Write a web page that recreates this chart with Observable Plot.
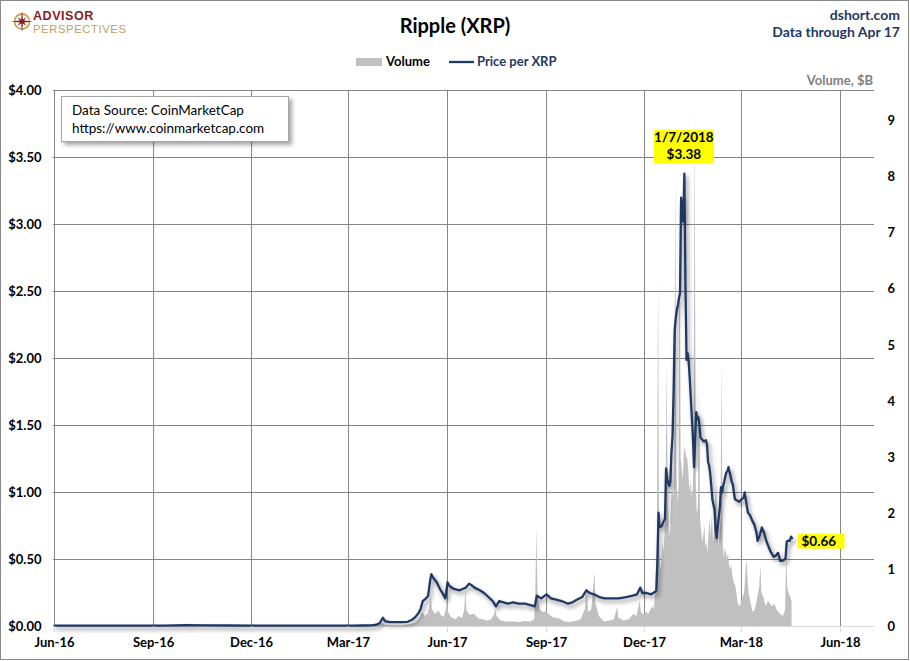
<!DOCTYPE html>
<html><head><meta charset="utf-8">
<script src="https://cdn.jsdelivr.net/npm/d3@7"></script>
<script src="https://cdn.jsdelivr.net/npm/@observablehq/plot@0.6"></script>
<style>
body{margin:0;background:#fff;}
#fig{position:relative;width:910px;height:661px;overflow:hidden;background:#fff;font-family:Lato,"Open Sans",sans-serif;}
#fig svg{position:absolute;left:0;top:0;}
#border{position:absolute;left:0;top:0;width:909px;height:660px;border:1px solid #8a8a8a;box-sizing:border-box;pointer-events:none;}
</style></head><body><div id="fig"><div id="border"></div></div>
<script>
// ---------- data ----------
const priceDates = ["2016-06-01","2016-06-20","2016-07-10","2016-08-01","2016-08-20","2016-09-10","2016-10-01","2016-10-20","2016-11-10","2016-12-01","2016-12-20","2017-01-10","2017-02-01","2017-02-20","2017-03-05","2017-03-15","2017-03-22","2017-03-27","2017-03-30","2017-04-02","2017-04-04","2017-04-08","2017-04-14","2017-04-20","2017-04-25","2017-04-29","2017-05-02","2017-05-05","2017-05-07","2017-05-09","2017-05-12","2017-05-14","2017-05-16","2017-05-17","2017-05-19","2017-05-22","2017-05-25","2017-05-28","2017-05-30","2017-06-01","2017-06-03","2017-06-07","2017-06-12","2017-06-15","2017-06-18","2017-06-21","2017-06-23","2017-06-26","2017-07-01","2017-07-05","2017-07-09","2017-07-13","2017-07-16","2017-07-19","2017-07-23","2017-07-27","2017-08-01","2017-08-06","2017-08-12","2017-08-17","2017-08-21","2017-08-23","2017-08-27","2017-09-01","2017-09-05","2017-09-10","2017-09-15","2017-09-21","2017-09-25","2017-09-29","2017-10-04","2017-10-08","2017-10-11","2017-10-15","2017-10-20","2017-10-25","2017-11-01","2017-11-07","2017-11-14","2017-11-20","2017-11-24","2017-11-27","2017-11-29","2017-12-03","2017-12-07","2017-12-11","2017-12-12","2017-12-13","2017-12-14","2017-12-15","2017-12-17","2017-12-19","2017-12-20","2017-12-21","2017-12-22","2017-12-24","2017-12-25","2017-12-26","2017-12-27","2017-12-28","2017-12-29","2017-12-30","2017-12-31","2018-01-01","2018-01-02","2018-01-03","2018-01-04","2018-01-05","2018-01-06","2018-01-07","2018-01-08","2018-01-09","2018-01-10","2018-01-11","2018-01-12","2018-01-13","2018-01-14","2018-01-15","2018-01-16","2018-01-17","2018-01-18","2018-01-19","2018-01-20","2018-01-21","2018-01-22","2018-01-23","2018-01-25","2018-01-27","2018-01-28","2018-01-29","2018-01-30","2018-01-31","2018-02-01","2018-02-02","2018-02-04","2018-02-05","2018-02-06","2018-02-07","2018-02-08","2018-02-09","2018-02-10","2018-02-11","2018-02-12","2018-02-13","2018-02-14","2018-02-15","2018-02-16","2018-02-17","2018-02-18","2018-02-19","2018-02-20","2018-02-21","2018-02-22","2018-02-23","2018-02-25","2018-02-27","2018-03-01","2018-03-03","2018-03-04","2018-03-05","2018-03-07","2018-03-09","2018-03-11","2018-03-13","2018-03-15","2018-03-16","2018-03-18","2018-03-20","2018-03-22","2018-03-24","2018-03-26","2018-03-28","2018-03-31","2018-04-02","2018-04-04","2018-04-06","2018-04-08","2018-04-10","2018-04-11","2018-04-12","2018-04-13","2018-04-15","2018-04-16","2018-04-17"];
const priceValues = [0.0060,0.0065,0.0068,0.0062,0.0063,0.0058,0.0095,0.0080,0.0075,0.0070,0.0066,0.0068,0.0063,0.0064,0.0064,0.0075,0.0090,0.0130,0.0250,0.0650,0.0400,0.0330,0.0320,0.0320,0.0350,0.0500,0.0700,0.1000,0.1300,0.1900,0.2100,0.2300,0.3500,0.3900,0.3600,0.3300,0.2800,0.2400,0.2100,0.3300,0.3000,0.2800,0.2700,0.2800,0.2900,0.3200,0.3100,0.2900,0.2700,0.2500,0.2200,0.1900,0.1500,0.1900,0.1800,0.1700,0.1800,0.1700,0.1700,0.1600,0.1500,0.2300,0.2100,0.2400,0.2100,0.2000,0.1900,0.1700,0.1800,0.2000,0.2200,0.2700,0.2500,0.2400,0.2200,0.2100,0.2100,0.2100,0.2200,0.2300,0.2400,0.2900,0.2500,0.2500,0.2400,0.2600,0.2700,0.5000,0.8500,0.7400,0.7500,0.7900,0.8000,1.1800,1.1000,1.0500,1.0800,1.3000,1.4200,1.7500,2.2100,2.3000,2.3600,2.4000,2.4500,2.4900,3.2000,3.1000,3.0200,3.3800,2.5500,1.9900,2.0400,1.9800,1.8500,1.7000,1.5500,1.4000,1.1900,1.4000,1.6000,1.5500,1.5600,1.5000,1.4100,1.4000,1.3800,1.3900,1.3600,1.2300,1.2000,1.1400,1.0500,0.9500,0.8700,0.7200,0.6600,0.7500,0.8200,0.8900,1.0400,1.0000,1.0500,1.0800,1.1200,1.1500,1.1600,1.1900,1.1500,1.1200,1.0800,1.0600,1.0000,0.9500,0.9400,0.9300,0.9500,0.9600,1.0000,0.9500,0.8500,0.8300,0.7900,0.7600,0.7000,0.6400,0.6800,0.7400,0.7000,0.6400,0.6000,0.5600,0.5200,0.5300,0.5500,0.4900,0.4900,0.5000,0.5100,0.6300,0.6400,0.6400,0.6700,0.6600];

// Volume, $B
const volumeDates = ["2016-06-01","2016-09-01","2016-12-01","2017-03-01","2017-03-20","2017-03-30","2017-04-02","2017-04-04","2017-04-12","2017-04-20","2017-04-27","2017-05-02","2017-05-04","2017-05-07","2017-05-09","2017-05-11","2017-05-14","2017-05-16","2017-05-17","2017-05-18","2017-05-21","2017-05-24","2017-05-26","2017-05-29","2017-05-31","2017-06-01","2017-06-02","2017-06-05","2017-06-09","2017-06-12","2017-06-15","2017-06-17","2017-06-18","2017-06-19","2017-06-22","2017-06-26","2017-06-30","2017-07-04","2017-07-08","2017-07-12","2017-07-15","2017-07-16","2017-07-17","2017-07-21","2017-07-26","2017-08-01","2017-08-07","2017-08-12","2017-08-17","2017-08-21","2017-08-22","2017-08-23","2017-08-24","2017-08-26","2017-08-29","2017-09-01","2017-09-04","2017-09-08","2017-09-13","2017-09-18","2017-09-23","2017-09-28","2017-10-03","2017-10-07","2017-10-09","2017-10-10","2017-10-13","2017-10-16","2017-10-17","2017-10-20","2017-10-25","2017-10-30","2017-11-03","2017-11-06","2017-11-07","2017-11-12","2017-11-17","2017-11-21","2017-11-24","2017-11-27","2017-11-28","2017-12-01","2017-12-03","2017-12-05","2017-12-07","2017-12-09","2017-12-10","2017-12-11","2017-12-12","2017-12-13","2017-12-14","2017-12-15","2017-12-16","2017-12-17","2017-12-18","2017-12-19","2017-12-20","2017-12-21","2017-12-22","2017-12-23","2017-12-24","2017-12-25","2017-12-26","2017-12-27","2017-12-28","2017-12-29","2017-12-30","2017-12-31","2018-01-01","2018-01-02","2018-01-03","2018-01-04","2018-01-05","2018-01-06","2018-01-07","2018-01-08","2018-01-09","2018-01-10","2018-01-11","2018-01-12","2018-01-13","2018-01-14","2018-01-15","2018-01-16","2018-01-17","2018-01-18","2018-01-19","2018-01-20","2018-01-21","2018-01-22","2018-01-23","2018-01-24","2018-01-25","2018-01-26","2018-01-27","2018-01-28","2018-01-29","2018-01-30","2018-01-31","2018-02-01","2018-02-02","2018-02-03","2018-02-04","2018-02-05","2018-02-06","2018-02-07","2018-02-08","2018-02-09","2018-02-10","2018-02-11","2018-02-12","2018-02-13","2018-02-14","2018-02-15","2018-02-16","2018-02-17","2018-02-18","2018-02-19","2018-02-20","2018-02-21","2018-02-22","2018-02-24","2018-02-26","2018-02-28","2018-03-02","2018-03-04","2018-03-06","2018-03-08","2018-03-10","2018-03-12","2018-03-14","2018-03-16","2018-03-18","2018-03-19","2018-03-20","2018-03-22","2018-03-24","2018-03-26","2018-03-28","2018-03-30","2018-04-01","2018-04-03","2018-04-05","2018-04-07","2018-04-09","2018-04-11","2018-04-12","2018-04-13","2018-04-14","2018-04-15","2018-04-16","2018-04-17"];
const volumeValues = [0.0005,0.0004,0.0006,0.0010,0.003,0.02,0.06,0.02,0.015,0.012,0.03,0.06,0.08,0.15,0.25,0.18,0.22,0.40,0.52,0.30,0.22,0.28,0.20,0.16,0.30,0.55,0.25,0.15,0.12,0.18,0.14,0.30,0.64,0.28,0.20,0.22,0.14,0.12,0.10,0.12,0.22,0.30,0.18,0.10,0.08,0.08,0.07,0.09,0.08,0.12,0.60,1.76,0.64,0.30,0.25,0.26,0.20,0.15,0.14,0.08,0.07,0.09,0.12,0.30,0.64,0.25,0.30,0.96,0.40,0.18,0.08,0.10,0.12,0.34,0.15,0.10,0.12,0.22,0.18,0.46,0.25,0.20,0.25,0.22,0.30,0.35,0.30,0.50,1.00,1.40,6.30,1.50,1.00,1.10,1.50,1.30,1.60,2.40,4.70,2.20,1.80,1.60,2.20,2.50,2.30,2.60,8.10,2.70,2.20,2.50,7.60,3.00,2.80,2.60,3.10,3.20,3.00,3.00,2.80,2.40,2.60,2.30,2.40,2.90,9.20,2.60,2.00,2.10,4.30,1.90,1.70,1.50,1.60,1.80,1.40,1.50,1.30,1.70,1.90,1.60,2.00,1.50,1.70,2.20,2.50,1.80,1.40,1.60,1.90,4.70,1.50,1.20,1.40,1.30,1.20,1.30,1.10,1.00,1.10,0.90,0.80,0.70,0.40,0.35,0.50,0.60,1.20,0.60,0.40,0.25,0.30,0.50,0.70,1.10,0.60,0.50,0.35,0.45,0.40,0.35,0.40,0.30,0.25,0.20,0.18,0.30,1.30,0.70,0.60,0.55,0.50,0.45];

const xTickDates = ["2016-06-01","2016-09-01","2016-12-01","2017-03-01","2017-06-01","2017-09-01","2017-12-01","2018-03-01","2018-06-01"];
const priceTicks = [0,0.5,1,1.5,2,2.5,3,3.5,4];
const volumeTicks = [0,1,2,3,4,5,6,7,8,9];
const peakLabel = {date:"2018-01-07", value:3.38, lines:["1/7/2018","$3.38"]};
const lastLabel = {date:"2018-04-17", value:0.66, text:"$0.66"};

// ---------- chart ----------
const ratio = 56.2/134; // price-axis units per $B of volume (secondary axis)
const price = priceDates.map((d,i)=>({date:new Date(d), p:priceValues[i]}));
const volume = volumeDates.map((d,i)=>({date:new Date(d), v:volumeValues[i]*ratio}));
const xTicks = xTickDates.map(d=>new Date(d));
const gridColor = "#858585";

const chart = Plot.plot({
  width:910, height:661,
  marginLeft:53, marginRight:36, marginTop:90, marginBottom:35,
  style:{fontFamily:"Lato, sans-serif", fontSize:"13px", fontWeight:"bold", color:"#000", background:"transparent", overflow:"visible"},
  x:{type:"utc", domain:[new Date(Date.UTC(2016,4,31,1)), new Date(Date.UTC(2018,6,2,14))]},
  y:{domain:[0,4]},
  marks:[
    Plot.gridX(xTicks, {stroke:gridColor, strokeOpacity:1, strokeWidth:1}),
    Plot.gridY(priceTicks.filter(d=>d>0), {stroke:gridColor, strokeOpacity:1, strokeWidth:1}),
    Plot.areaY(volume, {x:"date", y:"v", fill:"#c0c0c0"}),
    Plot.ruleY([0], {stroke:"#d9d9d9", strokeWidth:1}),
    Plot.lineY(price, {x:"date", y:"p", stroke:"#1f3864", strokeWidth:2.3, strokeLinejoin:"round"}),
    Plot.axisY(priceTicks, {anchor:"left", tickSize:0, tickPadding:12, label:null, tickFormat:d=>"$"+d.toFixed(2), fontSize:13, fontWeight:"bold"}),
    Plot.axisY(volumeTicks.map(v=>v*ratio), {anchor:"right", tickSize:0, tickPadding:13, label:null, tickFormat:d=>String(Math.round(d/ratio)), fontSize:13, fontWeight:"bold"}),
    Plot.axisX(xTicks, {anchor:"bottom", tickSize:6, tickPadding:5, stroke:"#d9d9d9", label:null, tickFormat:d3.utcFormat("%b-%y"), fontSize:13, fontWeight:"bold"})
  ]
});
document.getElementById("fig").insertBefore(chart, document.getElementById("border"));
// Excel-style shadow under the price line
d3.select(chart).selectAll('g[aria-label="line"]').style("filter","drop-shadow(2px 3px 2px rgba(0,0,0,0.45))");

const xs = chart.scale("x"), ys = chart.scale("y");

// ---------- overlay text ----------
const ov = d3.select("#fig").insert("svg","#border").attr("width",910).attr("height",661)
  .style("font-family","Lato, sans-serif");

// logo
const logo = ov.append("g").attr("transform","translate(22,21.5)");
logo.append("circle").attr("r",7.5).attr("fill","none").attr("stroke","#c4a65e").attr("stroke-width",1.8);
const starPts = [];
for (let k=0;k<16;k++){ const a=k*Math.PI/8 - Math.PI/2; const r = k%4===0?11:(k%2===0?6.5:2.3); starPts.push([r*Math.cos(a), r*Math.sin(a)]); }
logo.append("polygon").attr("points", starPts.map(p=>p.join(",")).join(" ")).attr("fill","#8c1d1d");
ov.append("text").attr("x",33).attr("y",19.8).attr("font-family","'Liberation Sans', Arial, sans-serif").attr("font-size",12.6).attr("font-weight",700).attr("letter-spacing",0.5).attr("fill","#8c1d1d").text("ADVISOR");
ov.append("text").attr("x",33).attr("y",32.6).attr("font-family","'Liberation Sans', Arial, sans-serif").attr("font-size",11.2).attr("font-weight",400).attr("letter-spacing",0.65).attr("fill","#bfa060").text("PERSPECTIVES");

// title
ov.append("text").attr("x",455).attr("y",33).attr("text-anchor","middle").attr("font-size",20).attr("font-weight","bold").attr("fill","#000").text("Ripple (XRP)");
ov.append("text").attr("x",900).attr("y",19.5).attr("text-anchor","end").attr("font-size",14).attr("font-weight","bold").attr("fill","#1f3864").text("dshort.com");
ov.append("text").attr("x",900).attr("y",37).attr("text-anchor","end").attr("font-size",14).attr("font-weight","bold").attr("fill","#1f3864").text("Data through Apr 17");

// legend
ov.append("rect").attr("x",356).attr("y",58).attr("width",26).attr("height",8).attr("fill","#c0c0c0");
ov.append("text").attr("x",386).attr("y",66).attr("font-size",13).attr("font-weight","bold").attr("fill","#000").text("Volume");
ov.append("line").attr("x1",449).attr("x2",474).attr("y1",62).attr("y2",62).attr("stroke","#1f3864").attr("stroke-width",2.3);
ov.append("text").attr("x",477).attr("y",66).attr("font-size",13).attr("font-weight","bold").attr("fill","#1f3864").text("Price per XRP");

// secondary axis title
ov.append("text").attr("x",873).attr("y",85).attr("text-anchor","end").attr("font-size",13).attr("font-weight","bold").attr("fill","#808080").text("Volume, $B");

// data source box
ov.append("rect").attr("x",61.5).attr("y",96.5).attr("width",227).attr("height",45).attr("fill","#fff").attr("stroke","#a6a6a6")
  .style("filter","drop-shadow(3px 3px 2px rgba(0,0,0,0.35))");
ov.append("text").attr("x",72).attr("y",115).attr("font-size",13.5).attr("fill","#000").text("Data Source: CoinMarketCap");
ov.append("text").attr("x",72).attr("y",132.5).attr("font-size",13.5).attr("fill","#000").text("https://www.coinmarketcap.com");

// peak annotation
const px = xs.apply(new Date(peakLabel.date)), py = ys.apply(peakLabel.value);
ov.append("rect").attr("x",px-30).attr("y",py-43).attr("width",60).attr("height",33).attr("fill","#ffff00");
ov.append("text").attr("x",px).attr("y",py-31).attr("text-anchor","middle").attr("font-size",13.5).attr("font-weight","bold").attr("fill","#000").text(peakLabel.lines[0]);
ov.append("text").attr("x",px).attr("y",py-14).attr("text-anchor","middle").attr("font-size",13.5).attr("font-weight","bold").attr("fill","#000").text(peakLabel.lines[1]);

// last value annotation
const lx = xs.apply(new Date(lastLabel.date)), ly = ys.apply(lastLabel.value);
ov.append("rect").attr("x",lx+6).attr("y",ly-4).attr("width",47).attr("height",15).attr("fill","#ffff00");
ov.append("text").attr("x",lx+10).attr("y",ly+8).attr("font-size",13.5).attr("font-weight","bold").attr("fill","#000").text(lastLabel.text);
</script></body></html>
